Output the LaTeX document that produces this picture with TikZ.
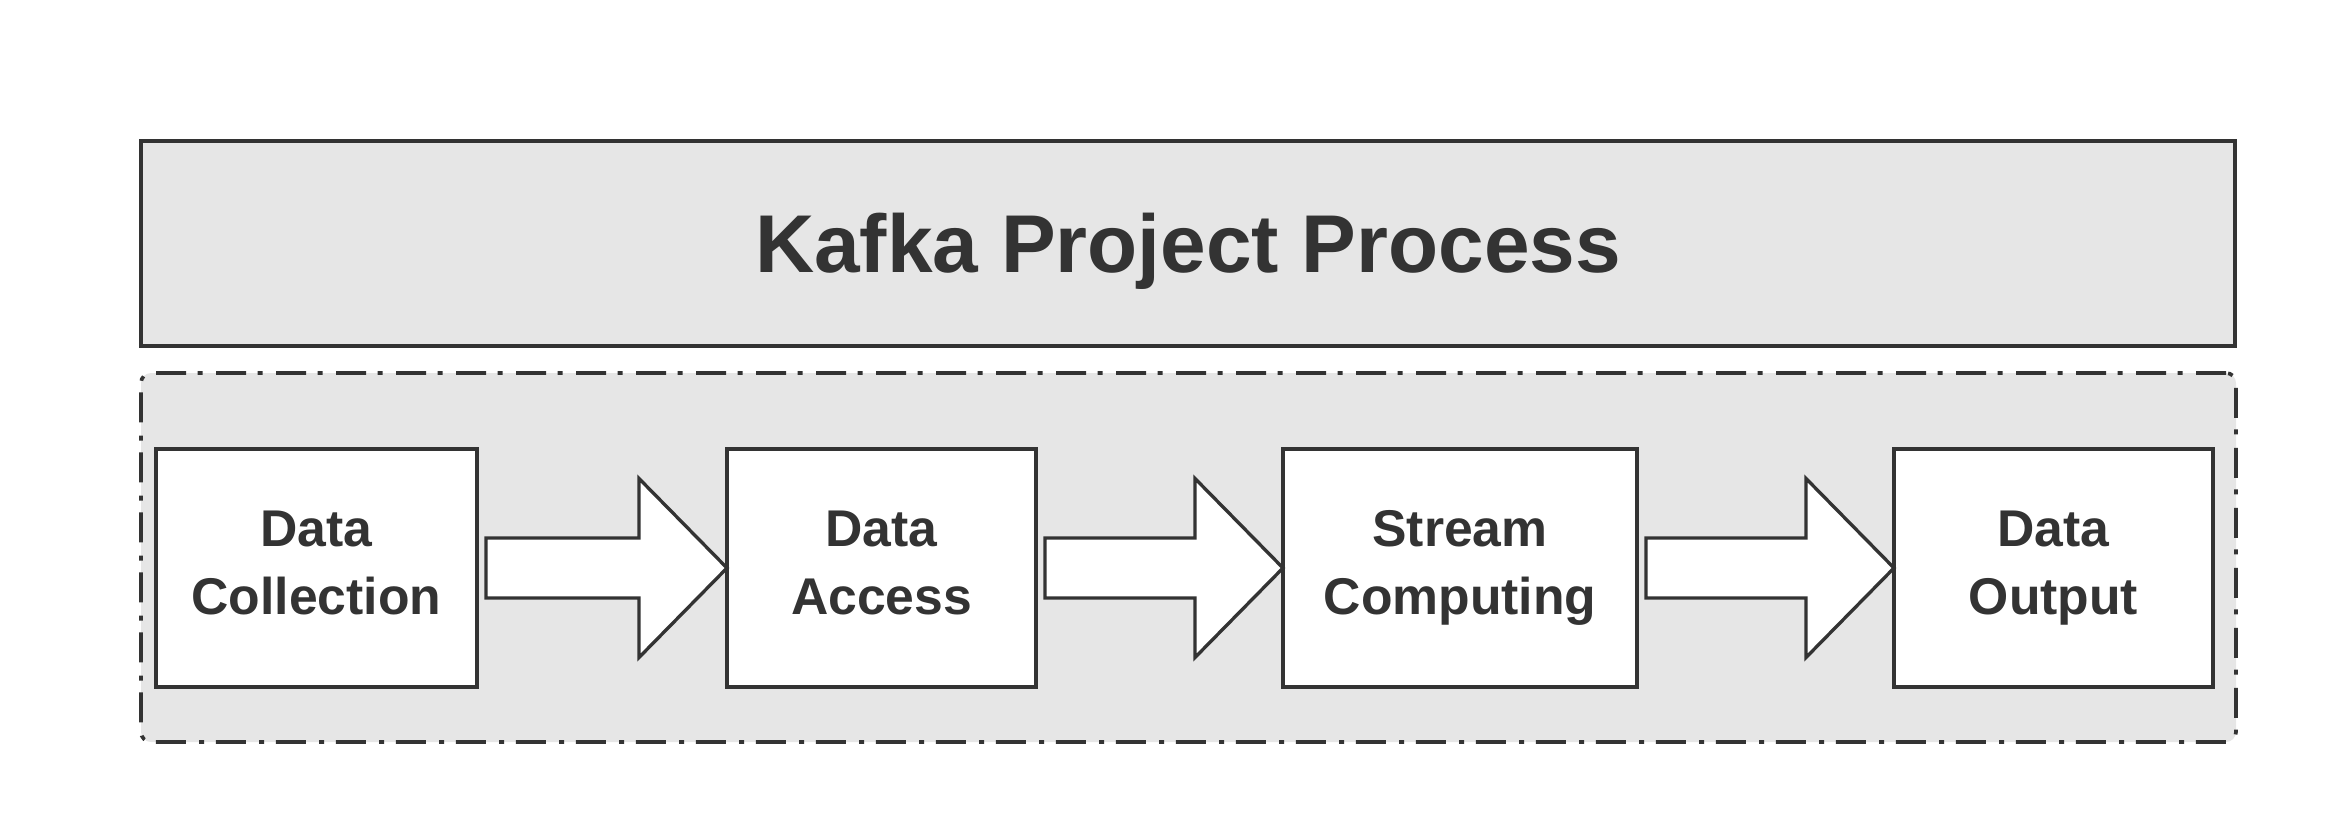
\documentclass[tikz,border=0pt]{standalone}
\usepackage{tikz}
\usepackage{xcolor}
\usepackage{fontspec}
\setmainfont{Liberation Sans}
\usetikzlibrary{positioning,calc}

\definecolor{linegray}{HTML}{333333}
\definecolor{panelgray}{HTML}{E6E6E6}

\begin{document}
\begin{tikzpicture}
\tikzset{every node/.style={text=linegray,font=\bfseries}}
\tikzset{titlebox/.style={draw=linegray,line width=1pt,fill=panelgray,minimum width=628.2pt,minimum height=61.5pt,inner sep=0pt,text height=17.5pt,text depth=0pt,font=\fontsize{24.6}{29}\selectfont\bfseries}}
\tikzset{stagebox/.style={draw=linegray,line width=1.15pt,fill=white,minimum height=71.4pt,inner sep=0pt,outer sep=0pt,align=center,execute at begin node={\rule{0pt}{15pt}},execute at end node={\vphantom{g}},font=\fontsize{15.5}{20.5}\selectfont\bfseries}}
\tikzset{groupbox/.style={draw=linegray,line width=1.1pt,fill=panelgray,rounded corners=3pt,dash pattern=on 9pt off 4pt on 1.5pt off 3.5pt,minimum width=628.5pt,minimum height=110.7pt}}
\tikzset{bigarrow/.style={draw=linegray,line width=1pt,fill=white}}

\useasboundingbox (0,0) rectangle (699.6pt,-251.7pt);

\node[titlebox] (title) at (356.4pt,-73.05pt) {Kafka Project Process};
\node[groupbox] (group) at (356.55pt,-167.25pt) {};

\node[stagebox,minimum width=96.3pt] (collect) at (94.95pt,-170.4pt) {Data\\Collection};
\node[stagebox,minimum width=92.7pt,right=75pt of collect] (access) {Data\\Access};
\node[stagebox,minimum width=106.2pt,right=74.1pt of access] (stream) {Stream\\Computing};
\node[stagebox,minimum width=95.7pt,right=77.1pt of stream] (output) {Data\\Output};

\foreach \a/\b in {collect/access,access/stream,stream/output}
  \draw[bigarrow] let \p1=(\a.east), \p2=(\b.west) in
    (\x1+2.7pt,\y1+9pt) -- (\x2-26.4pt,\y1+9pt) -- (\x2-26.4pt,\y1+26.85pt) -- (\x2,\y1)
    -- (\x2-26.4pt,\y1-26.85pt) -- (\x2-26.4pt,\y1-9pt) -- (\x1+2.7pt,\y1-9pt) -- cycle;

\end{tikzpicture}
\end{document}
